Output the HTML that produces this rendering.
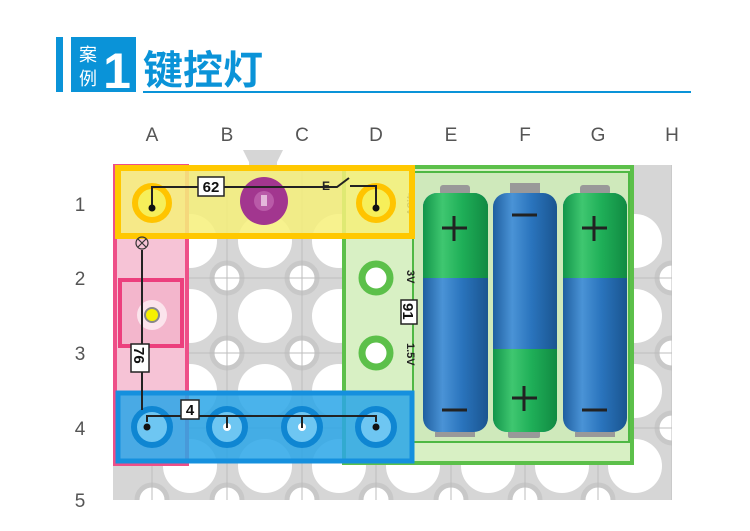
<!DOCTYPE html>
<html><head><meta charset="utf-8"><style>
body{margin:0;background:#fff;width:750px;height:526px;overflow:hidden;font-family:"Liberation Sans","Noto Sans CJK SC",sans-serif}
</style></head><body>
<svg width="750" height="526" viewBox="0 0 750 526" xmlns="http://www.w3.org/2000/svg" font-family="Liberation Sans, Noto Sans CJK SC, sans-serif">
<defs>
<clipPath id="bd"><rect x="113" y="165" width="559" height="335"/></clipPath>
<linearGradient id="blu" x1="0" x2="1"><stop offset="0" stop-color="#1f5fa0"/><stop offset=".3" stop-color="#4a93d6"/><stop offset=".6" stop-color="#2a74bd"/><stop offset="1" stop-color="#1a5590"/></linearGradient>
<linearGradient id="grn" x1="0" x2="1"><stop offset="0" stop-color="#12954a"/><stop offset=".3" stop-color="#3fc770"/><stop offset=".6" stop-color="#1faf58"/><stop offset="1" stop-color="#118a42"/></linearGradient>
</defs>
<!-- header -->
<rect x="56" y="37" width="7" height="55" fill="#0a93d8"/>
<rect x="71" y="37" width="65" height="55" fill="#0a93d8"/>
<text x="88" y="61" font-size="18" fill="#fff" text-anchor="middle">案</text>
<text x="88" y="85" font-size="18" fill="#fff" text-anchor="middle">例</text>
<text x="117" y="88" font-size="50" font-weight="bold" fill="#fff" text-anchor="middle">1</text>
<text x="143" y="84" font-size="40" font-weight="bold" fill="#0a93d8">键控灯</text>
<rect x="143" y="91" width="548" height="2" fill="#0a93d8"/>
<!-- col/row labels -->
<g font-size="19" fill="#555" text-anchor="middle">
<text x="152" y="141">A</text><text x="227" y="141">B</text><text x="302" y="141">C</text><text x="376" y="141">D</text><text x="451" y="141">E</text><text x="525" y="141">F</text><text x="598" y="141">G</text><text x="672" y="141">H</text>
<text x="80" y="211">1</text><text x="80" y="285">2</text><text x="80" y="360">3</text><text x="80" y="435">4</text><text x="80" y="507">5</text>
</g>
<!-- board -->
<g clip-path="url(#bd)">
<rect x="113" y="150" width="559" height="350" fill="#d6d6d6"/>
<g fill="#fff">
<circle cx="190" cy="241" r="27"/><circle cx="265" cy="241" r="27"/><circle cx="339" cy="241" r="27"/><circle cx="413" cy="241" r="27"/><circle cx="488" cy="241" r="27"/><circle cx="562" cy="241" r="27"/><circle cx="635" cy="241" r="27"/>
<circle cx="190" cy="316" r="27"/><circle cx="265" cy="316" r="27"/><circle cx="339" cy="316" r="27"/><circle cx="413" cy="316" r="27"/><circle cx="488" cy="316" r="27"/><circle cx="562" cy="316" r="27"/><circle cx="635" cy="316" r="27"/>
<circle cx="190" cy="391" r="27"/><circle cx="265" cy="391" r="27"/><circle cx="339" cy="391" r="27"/><circle cx="413" cy="391" r="27"/><circle cx="488" cy="391" r="27"/><circle cx="562" cy="391" r="27"/><circle cx="635" cy="391" r="27"/>
<circle cx="190" cy="466" r="27"/><circle cx="265" cy="466" r="27"/><circle cx="339" cy="466" r="27"/><circle cx="413" cy="466" r="27"/><circle cx="488" cy="466" r="27"/><circle cx="562" cy="466" r="27"/><circle cx="635" cy="466" r="27"/>
</g>
<g fill="#fff" stroke="#c8c8c8" stroke-width="5">
<circle cx="227" cy="278" r="15"/><circle cx="302" cy="278" r="15"/><circle cx="227" cy="353" r="15"/><circle cx="302" cy="353" r="15"/><circle cx="672" cy="278" r="15"/><circle cx="672" cy="353" r="15"/><circle cx="672" cy="428" r="15"/>
<circle cx="152" cy="500" r="15"/><circle cx="227" cy="500" r="15"/><circle cx="302" cy="500" r="15"/><circle cx="376" cy="500" r="15"/><circle cx="451" cy="500" r="15"/><circle cx="525" cy="500" r="15"/><circle cx="598" cy="500" r="15"/>
</g>
<g stroke="#bdbdbd" stroke-width="1">
<line x1="152" y1="150" x2="152" y2="500"/><line x1="227" y1="150" x2="227" y2="500"/><line x1="302" y1="150" x2="302" y2="500"/><line x1="376" y1="150" x2="376" y2="500"/><line x1="451" y1="150" x2="451" y2="500"/><line x1="525" y1="150" x2="525" y2="500"/><line x1="598" y1="150" x2="598" y2="500"/><line x1="672" y1="150" x2="672" y2="500"/>
<line x1="113" y1="278" x2="672" y2="278"/><line x1="113" y1="353" x2="672" y2="353"/><line x1="113" y1="428" x2="672" y2="428"/>
</g>
</g>
<path d="M243 150 h40 l-6 12 v4 h-28 v-4z" fill="#d6d6d6"/>
<!-- pink lamp piece -->
<rect x="115" y="166" width="72" height="298" fill="#f6c3d6" stroke="#ee4f88" stroke-width="4"/>
<rect x="120" y="280" width="62" height="66" fill="#f3b6cc" stroke="#ec3f7d" stroke-width="4"/>
<circle cx="152" cy="315" r="15" fill="#fbe4ec"/>
<circle cx="152" cy="315" r="7" fill="#f6f000" stroke="#888" stroke-width="2"/>
<!-- green battery holder -->
<rect x="344" y="167" width="288" height="296" fill="#d8f0c4" stroke="#5cc04a" stroke-width="4"/>
<rect x="413" y="172" width="216" height="270" fill="#cfe9bb" stroke="#4fb844" stroke-width="2"/>
<circle cx="376" cy="278" r="14" fill="#fff" stroke="#5cc04a" stroke-width="7"/>
<circle cx="376" cy="353" r="14" fill="#fff" stroke="#5cc04a" stroke-width="7"/>
<g font-size="11" font-weight="bold" fill="#222">
<text transform="translate(407,193) rotate(90)">4.5V</text>
<text transform="translate(407,270) rotate(90)">3V</text>
<text transform="translate(407,343) rotate(90)">1.5V</text>
</g>
<rect x="401" y="300" width="16" height="24" fill="#fff" stroke="#222" stroke-width="1.5"/>
<text transform="translate(403,303) rotate(90)" font-size="15" font-weight="bold" fill="#111">91</text>
<!-- springs/terminals -->
<g fill="#999"><rect x="440" y="185" width="30" height="10" rx="3"/><rect x="510" y="183" width="30" height="10"/><rect x="580" y="185" width="30" height="10" rx="3"/>
<rect x="435" y="432" width="40" height="5"/><rect x="508" y="430" width="32" height="8" rx="2"/><rect x="575" y="432" width="40" height="5"/></g>
<!-- batteries -->
<rect x="423" y="193" width="65" height="239" rx="14" fill="url(#blu)"/>
<path d="M423 278 V207 a14 14 0 0 1 14 -14 h37 a14 14 0 0 1 14 14 V278z" fill="url(#grn)"/>
<rect x="493" y="193" width="64" height="239" rx="14" fill="url(#blu)"/>
<path d="M493 349 h64 V418 a14 14 0 0 1 -14 14 h-36 a14 14 0 0 1 -14 -14z" fill="url(#grn)"/>
<rect x="563" y="193" width="64" height="239" rx="14" fill="url(#blu)"/>
<path d="M563 278 V207 a14 14 0 0 1 14 -14 h36 a14 14 0 0 1 14 14 V278z" fill="url(#grn)"/>
<g stroke="#222" stroke-width="3">
<path d="M442 228 h25 M454 216 v25"/><path d="M512 215 h25"/><path d="M582 228 h25 M594 216 v25"/>
<path d="M442 410 h25"/><path d="M512 398 h25 M524 386 v25"/><path d="M582 410 h25"/>
</g>
<!-- yellow switch piece -->
<rect x="118" y="168" width="294" height="68" fill="#f6f07a" fill-opacity=".85" stroke="#ffc800" stroke-width="6"/>
<circle cx="152" cy="203" r="17" fill="#f6ef5a" stroke="#ffc400" stroke-width="6"/>
<circle cx="376" cy="203" r="17" fill="#f6ef5a" stroke="#ffc400" stroke-width="6"/>
<circle cx="264" cy="201" r="24" fill="#a2368f"/>
<circle cx="264" cy="201" r="10" fill="#b95aa8"/>
<rect x="261" y="195" width="6" height="11" fill="#e4b8db"/>
<!-- blue wire piece -->
<rect x="118" y="393" width="294" height="68" fill="#2aa6e8" fill-opacity=".85" stroke="#1590de" stroke-width="5"/>
<g fill="#6ec6f2" stroke="#0f86d2" stroke-width="6">
<circle cx="152" cy="427" r="18"/><circle cx="227" cy="427" r="18"/><circle cx="302" cy="427" r="18"/><circle cx="376" cy="427" r="18"/>
</g>
<g fill="#fff"><circle cx="227" cy="427" r="4"/><circle cx="302" cy="427" r="4"/></g>
<!-- wires -->
<g stroke="#222" stroke-width="2" fill="none">
<path d="M152 208 V187 H337 L349 178"/><path d="M350 186 H376 V208"/>
<path d="M142 250 V410"/>
<path d="M147 422 V416 H376 V422 M227 416 v12 M302 416 v12"/>
</g>
<circle cx="142" cy="243" r="6" fill="none" stroke="#333" stroke-width="1.2"/>
<path d="M138 239 l8 8 M146 239 l-8 8" stroke="#333" stroke-width="1.2"/>
<g fill="#111"><circle cx="152" cy="208" r="3.5"/><circle cx="376" cy="208" r="3.5"/><circle cx="147" cy="427" r="3.5"/><circle cx="376" cy="427" r="3.5"/></g>
<text x="322" y="190" font-size="12" font-weight="bold" fill="#222">E-</text>
<rect x="198" y="177" width="26" height="19" fill="#fff" stroke="#222" stroke-width="1.5"/>
<text x="211" y="192" font-size="15" font-weight="bold" text-anchor="middle" fill="#111">62</text>
<rect x="131" y="344" width="18" height="28" fill="#fff" stroke="#222" stroke-width="1.5"/>
<text transform="translate(134,347) rotate(90)" font-size="15" font-weight="bold" fill="#111">76</text>
<rect x="181" y="400" width="18" height="19" fill="#fff" stroke="#222" stroke-width="1.5"/>
<text x="190" y="415" font-size="15" font-weight="bold" text-anchor="middle" fill="#111">4</text>
</svg>
</body></html>
